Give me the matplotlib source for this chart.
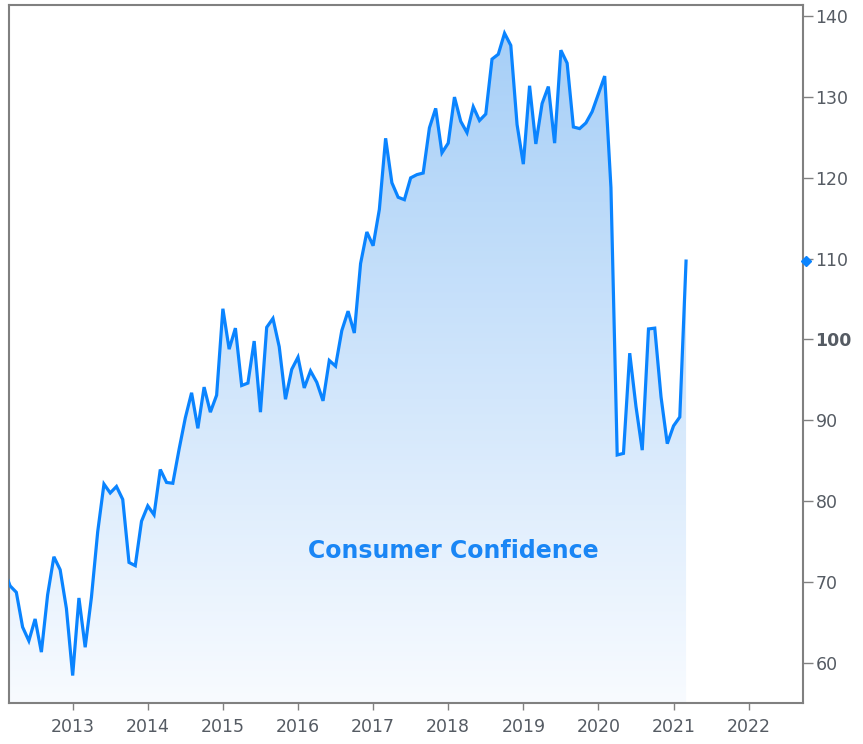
import numpy as np
import matplotlib.pyplot as plt
from matplotlib.colors import LinearSegmentedColormap
from matplotlib.transforms import blended_transform_factory

# monthly consumer confidence, Feb 2012 .. Mar 2021
start_year, start_month = 2012, 2
values = [
    71.6, 69.5, 68.7, 64.4, 62.7, 65.4, 61.3, 68.4, 73.1, 71.5, 66.7,           # 2012
    58.4, 68.0, 61.9, 68.1, 76.2, 82.1, 81.0, 81.8, 80.2, 72.4, 72.0, 77.5,     # 2013
    79.4, 78.3, 83.9, 82.3, 82.2, 86.4, 90.3, 93.4, 89.0, 94.1, 91.0, 93.1,     # 2014
    103.8, 98.8, 101.4, 94.3, 94.6, 99.8, 91.0, 101.5, 102.6, 99.1, 92.6, 96.3, # 2015
    97.8, 94.0, 96.1, 94.7, 92.4, 97.4, 96.7, 101.1, 103.5, 100.8, 109.4, 113.3,  # 2016
    111.6, 116.1, 124.9, 119.4, 117.6, 117.3, 120.0, 120.4, 120.6, 126.2, 128.6, 123.1,  # 2017
    124.3, 130.0, 127.0, 125.6, 128.8, 127.1, 127.9, 134.7, 135.3, 137.9, 136.4, 126.6,  # 2018
    121.7, 131.4, 124.2, 129.2, 131.3, 124.3, 135.8, 134.2, 126.3, 126.1, 126.8, 128.2,  # 2019
    130.4, 132.6, 118.8, 85.7, 85.9, 98.3, 91.7, 86.3, 101.3, 101.4, 92.9, 87.1,  # 2020
    89.3, 90.4, 109.7,                                                             # 2021
]
years = [2013, 2014, 2015, 2016, 2017, 2018, 2019, 2020, 2021, 2022]
yticks = [60, 70, 80, 90, 100, 110, 120, 130, 140]
label = 'Consumer Confidence'

t = start_year + (start_month - 1) / 12 + np.arange(len(values)) / 12
v = np.array(values)

fig = plt.figure(figsize=(8.63, 7.44), dpi=100)
ax = fig.add_axes([0.0104, 0.0551, 0.9201, 0.9382])

xmin, xmax = 2012.152, 2022.724
ymin, ymax = 55.0, 141.4
ax.set_xlim(xmin, xmax)
ax.set_ylim(ymin, ymax)

# gradient fill under the line
cmap = LinearSegmentedColormap.from_list('fade', ['#f8fbff', '#a3cdf7'])
grad = np.linspace(0, 1, 256).reshape(-1, 1)
poly = ax.fill_between(t, v, ymin, facecolor='none', edgecolor='none')
img = ax.imshow(grad, extent=[xmin, xmax, ymin, ymax], origin='lower',
                aspect='auto', cmap=cmap, zorder=1)
img.set_clip_path(poly.get_paths()[0], transform=ax.transData)

ax.plot(t, v, color='#0a84ff', lw=2.3, zorder=3, solid_joinstyle='miter')

# latest value marker on the right axis
trans = blended_transform_factory(ax.transAxes, ax.transData)
ax.plot([1.004], [v[-1]], marker='D', ms=5, color='#0a84ff', transform=trans,
        clip_on=False, zorder=4)

ax.text(0.559, 0.218, label, transform=ax.transAxes, ha='center', va='center',
        fontsize=17, fontweight='bold', color='#1a86f5')

ax.yaxis.tick_right()
ax.set_yticks(yticks)
ax.set_yticklabels([str(y) for y in yticks])
for lab in ax.get_yticklabels():
    if lab.get_text() == '100':
        lab.set_fontweight('bold')
ax.set_xticks(years)
ax.set_xticklabels([str(y) for y in years])
ax.tick_params(axis='y', direction='out', length=7, width=1, color='#808080',
               labelsize=12.5, labelcolor='#555b63', pad=2)
ax.tick_params(axis='x', direction='out', length=5, width=1, color='#808080',
               labelsize=12.5, labelcolor='#555b63', pad=6)
for s in ax.spines.values():
    s.set_color('#808080')
    s.set_linewidth(1.5)

fig.savefig('out.png', dpi=100)
